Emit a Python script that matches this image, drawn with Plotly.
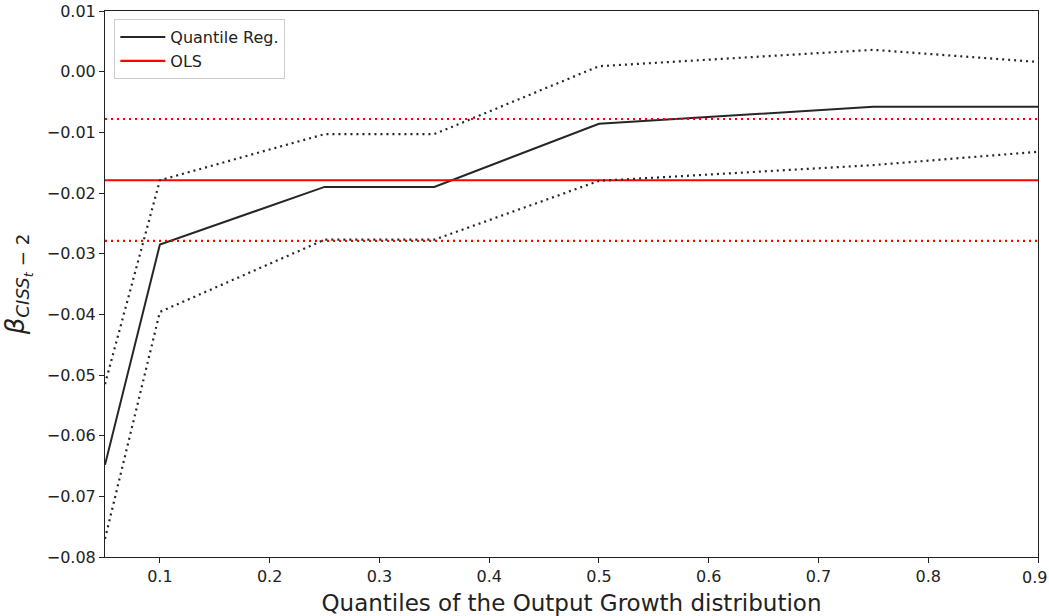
import plotly.graph_objects as go

# Quantile regression estimates and confidence bands
quantiles = [0.05, 0.1, 0.25, 0.35, 0.5, 0.75, 0.9]
qr_coef = [-0.0648, -0.0285, -0.0190, -0.0190, -0.0086, -0.0058, -0.0058]
qr_upper = [-0.0515, -0.0179, -0.0103, -0.0103, 0.0009, 0.0036, 0.0016]
qr_lower = [-0.0770, -0.0396, -0.0277, -0.0277, -0.0180, -0.0154, -0.0132]

# OLS estimate and its band
ols_coef = -0.0179
ols_upper = -0.0078
ols_lower = -0.0279

x_range = [0.05, 0.9]
x_ticks = [0.1, 0.2, 0.3, 0.4, 0.5, 0.6, 0.7, 0.8, 0.9]
y_ticks = [-0.08, -0.07, -0.06, -0.05, -0.04, -0.03, -0.02, -0.01, 0.00, 0.01]

dark = "#262626"
red = "#ff0000"
dotted = "2px,4px"
tick_font = dict(family="DejaVu Sans", size=16, color="#222222")

fig = go.Figure()

fig.add_trace(go.Scatter(x=quantiles, y=qr_coef, mode="lines", name="Quantile Reg.",
                         line=dict(color=dark, width=2)))
fig.add_trace(go.Scatter(x=x_range, y=[ols_coef, ols_coef], mode="lines", name="OLS",
                         line=dict(color=red, width=2.2)))
fig.add_trace(go.Scatter(x=quantiles, y=qr_upper, mode="lines", showlegend=False,
                         line=dict(color=dark, width=2.2, dash=dotted)))
fig.add_trace(go.Scatter(x=quantiles, y=qr_lower, mode="lines", showlegend=False,
                         line=dict(color=dark, width=2.2, dash=dotted)))
fig.add_trace(go.Scatter(x=x_range, y=[ols_upper, ols_upper], mode="lines", showlegend=False,
                         line=dict(color=red, width=2.2, dash=dotted)))
fig.add_trace(go.Scatter(x=x_range, y=[ols_lower, ols_lower], mode="lines", showlegend=False,
                         line=dict(color=red, width=2.2, dash=dotted)))

axis_common = dict(showgrid=False, zeroline=False, showline=True, mirror=True, automargin=False,
                   linecolor="#222222", linewidth=1, ticks="outside", ticklen=5,
                   tickcolor="#222222", tickfont=tick_font)

# the last x tick label sits at the page edge, so it is drawn as an annotation
# right-aligned to the edge of the page
x_labels = [f"{v:.1f}" for v in x_ticks]
fig.update_xaxes(range=x_range, tickvals=x_ticks, ticktext=x_labels[:-1] + [""],
                 title=dict(text="Quantiles of the Output Growth distribution",
                            font=dict(family="DejaVu Sans", size=23, color="#222222")),
                 **axis_common)
fig.add_annotation(x=1 + 10 / 933, xref="paper", y=0, yref="paper", text=x_labels[-1],
                   showarrow=False, xanchor="right", yanchor="middle", yshift=-20,
                   borderpad=0, font=tick_font)

fig.update_yaxes(range=[-0.08, 0.01], tickvals=y_ticks,
                 ticktext=[f"{v:.2f}".replace("-", "−") for v in y_ticks],
                 title=dict(text="<i>β</i><sub><i>CISS</i><sub><i>t</i></sub> − 2</sub>",
                            font=dict(family="DejaVu Sans", size=26, color="#222222")),
                 **axis_common)

fig.update_layout(
    width=1049, height=616,
    margin=dict(l=105, r=11, t=11, b=59),
    paper_bgcolor="white", plot_bgcolor="white",
    legend=dict(x=0.01, y=0.985, xanchor="left", yanchor="top",
                bgcolor="rgba(255,255,255,0.8)", bordercolor="#cccccc", borderwidth=1,
                font=dict(family="DejaVu Sans", size=16, color="#222222"),
                itemwidth=45, tracegroupgap=2),
)

fig.write_html("out.html")
